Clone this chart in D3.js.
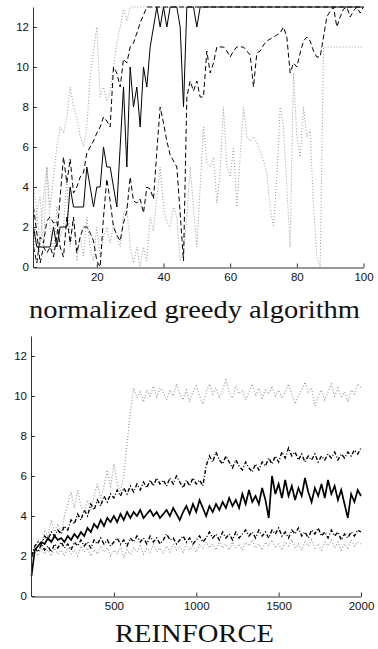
<!DOCTYPE html>
<html>
<head>
<meta charset="utf-8">
<script src="https://cdn.jsdelivr.net/npm/d3@7"></script>
<style>
  body { margin: 0; background: #fff; }
  .tick text { font-family: "Liberation Sans", Arial, sans-serif; font-size: 11.5px; fill: #111; }
  .domain, .tick line { stroke: #333; }
</style>
</head>
<body>
<div id="chart-area"></div>
<script>

// DATA -------------------------------------------------------------

// top panel: x = 1..100
var greedySolid = [2,1,1,1,1,1,2,1,2,2, 2,4,3,3,3,3,5,4,3,4, 4,6,5,5,4,3,6,9,5,10,
    8,9,7,10,9,11,12,13,12,13, 12,13,13,13,12,8,13,13,13,12,
    13,13,13,13,13,13,13,13,13,13, 13,13,13,13,13,13,13,13,13,13,
    13,13,13,13,13,13,13,13,13,13, 13,13,13,13,13,13,13,13,13,13,
    13,13,13,13,13,13,13,13,13,13];
var greedyDashA = [3,1.7,0.2,1,0.7,1,0.5,1.5,3.5,5.5, 4.2,5.4,3.7,4,4.5,4.7,5.7,6,6.3,6.7,
    7,7.5,7.3,7,10,9.7,9,10.4,10.2,11, 11.2,11.7,12.2,12.6,13,13,13,13,13,13,
    13,13,13,13,13,13,13,13,13,13, 13,13,13,13,13,13,13,13,13,13,
    13,13,13,13,13,13,13,13,13,13, 13,13,13,13,13,13,13,13,13,13,
    13,13,13,13,13,13,13,13,13,13, 13,13,13,13,13,13,13,13,13,13];
var greedyDashB = [1,0.2,1.5,1.2,2.3,2.5,2.2,2.3,1,0.5, 2.5,1.2,2.5,0.7,1.5,2,2,1.7,1.3,0.3,
    0,2.5,4.4,3.3,2,1.6,1.3,2.2,2.8,4.5, 3.3,3.2,3.4,2.7,4,3.9,3.4,5.8,8,7.2,
    6.3,5.6,5.3,5,2.7,0.3,8.5,9.3,8.8,9.3, 8.5,8.5,10.8,9.7,10.2,11,11,11,10.8,10.5,
    10.8,11,11,11,10.8,10.6,9,10.7,10.8,11.1, 11.3,11.4,11.5,11.6,11.7,12,11.5,9.7,10.2,10,
    10.7,11.3,11.5,11.3,10.8,10.5,10.5,11.5,12.5,12.8, 13,12,12.5,12.9,13,12.5,12.8,13,12.7,13];
var greedyDotA = [4,2.8,1,3.5,5,3,4.5,6,7,6.7, 7.5,9,8,7.5,6.5,6,7,9.5,10.8,12,
    8.5,9,8.3,8.8,10,11.2,12,12.9,12.3,13, 13,13,13,13,13,13,13,13,13,13,
    13,13,13,13,13,13,13,13,13,13, 13,13,13,13,13,13,13,13,13,13,
    13,13,13,13,13,13,13,13,13,13, 13,13,13,13,13,13,13,13,13,13,
    13,13,13,13,13,13,13,13,13,13, 13,13,13,13,13,13,13,13,13,13];
var greedyDotB = [0.5,2.8,3.5,1,5,2,0.5,3,1.5,2, 4.5,1,2.5,0.3,1.5,0.5,2.5,1,0.3,2,
    0.5,1.5,2,1.2,2.2,1.5,1,2.7,3,1, 0.2,1,0,1,0.3,2.5,1.8,3.5,5,3,
    2.2,2,3,2.5,0.3,0.7,2.5,5,3,1, 4,7,5.2,5,5.5,3.2,4.8,8,5,4.5,
    6,3,5.5,8,6.5,6.3,6.5,6.2,5.8,5.3, 4.7,3,2,4.5,8,7,4,1,9.7,6.5,
    5.5,8,6.5,6.8,3,0.5,0,11,11,11, 11,11,11,11,11,11,11,11,11,11];

// bottom panel: one value every 20 iterations, 0..2000
var reinforceIters = d3.range(0, 2001, 20);
var reinforceDotA = [1.8,2.4,2.8,2.5,3.3,3.0,3.8,3.2,3.6,3.1, 4.0,4.6,5.2,4.4,5.3,4.5,4.2,4.8,4.3,5.0,
    5.6,4.9,5.5,6.3,5.4,6.6,5.6,5.2,6.0,7.6, 9.2,10.4,9.9,10.2,9.7,10.3,10.0,10.5,9.9,10.4,
    10.2,9.8,10.3,10.0,10.6,10.1,9.8,10.3,9.7,10.2, 10.5,10.0,9.6,10.2,10.6,10.1,10.4,9.9,10.3,10.8,
    10.2,9.9,10.5,10.1,10.3,9.8,10.2,10.6,10.0,10.4, 9.9,10.3,10.1,10.5,10.0,10.3,9.9,10.2,10.6,10.1,
    9.6,10.0,10.3,10.7,10.2,10.4,9.5,10.0,10.3,9.8, 10.2,10.6,10.0,10.4,9.9,10.2,9.7,10.3,10.1,10.6, 10.4];
var reinforceDashA = [2.0,2.5,2.7,2.6,3.0,2.8,3.2,3.0,3.3,3.1, 3.5,3.3,3.8,3.6,4.1,3.8,4.3,4.0,4.6,4.3,
    4.8,4.5,5.0,4.7,5.1,4.9,5.3,5.0,5.4,5.1, 5.5,5.2,5.6,5.3,5.7,5.4,5.8,5.5,5.9,5.6,
    5.8,5.5,5.9,5.6,6.0,5.7,5.4,5.8,5.5,5.9, 5.6,5.8,5.5,6.5,7.0,6.7,7.2,6.8,6.6,7.0,
    6.7,6.4,6.8,6.5,6.3,6.7,6.4,6.2,6.6,6.3, 6.7,6.5,6.9,6.6,7.0,6.7,7.2,6.9,7.4,7.0,
    7.2,6.8,7.1,6.7,7.0,6.8,7.1,6.7,7.0,6.8, 7.1,6.9,7.2,6.8,7.1,6.9,7.2,7.0,7.3,7.1, 7.4];
var reinforceSolid = [1.0,2.3,2.5,2.7,2.6,2.9,2.7,3.0,2.8,2.9, 2.7,3.0,2.8,3.1,2.9,3.2,3.0,3.4,3.2,3.6,
    3.4,3.8,3.5,3.9,3.7,4.0,3.7,4.1,3.8,4.2, 3.9,4.2,4.0,4.3,3.9,4.1,4.3,4.0,4.2,3.9,
    4.1,4.3,4.0,4.4,4.1,3.8,4.2,4.5,4.1,4.6, 4.2,4.8,4.4,4.0,4.5,4.2,4.6,4.3,4.7,4.4,
    4.9,4.5,4.8,4.4,5.1,4.6,5.3,4.7,5.0,4.6, 5.4,4.8,3.9,6.0,5.1,5.6,4.9,5.8,5.0,5.5,
    4.8,5.4,5.0,5.9,5.2,4.7,5.4,5.0,5.6,4.9, 5.8,5.1,5.5,4.8,5.3,4.6,3.9,5.1,4.7,5.3, 5.0];
var reinforceDashB = [2.0,2.4,2.2,2.6,2.3,2.5,2.2,2.6,2.4,2.7, 2.4,2.6,2.3,2.7,2.5,2.8,2.5,2.7,2.4,2.8,
    2.6,2.9,2.6,2.8,2.5,2.7,2.9,2.6,2.8,2.5, 2.9,2.7,3.0,2.7,2.9,2.6,3.0,2.7,2.9,2.6,
    2.8,3.1,2.8,2.9,2.6,2.8,3.0,2.7,2.9,2.6, 2.8,3.0,2.7,2.9,3.2,2.9,3.1,2.8,3.2,2.9,
    3.1,2.8,3.2,2.9,3.1,3.3,3.0,3.2,2.9,3.3, 3.0,3.2,2.9,3.3,3.1,3.4,3.0,3.2,2.9,3.3,
    3.1,3.4,3.0,3.2,2.9,3.3,3.1,3.4,3.0,3.2, 2.9,3.3,3.0,3.2,2.8,3.1,2.9,3.2,3.0,3.3, 3.2];
var reinforceDotB = [1.8,2.2,2.0,2.4,2.1,2.3,2.0,2.4,2.1,2.3, 2.0,2.4,2.1,2.3,2.0,2.5,2.2,2.4,2.0,2.3,
    2.1,2.5,2.2,2.4,2.0,2.3,2.1,2.5,1.9,2.3, 2.1,2.4,2.2,2.5,2.1,2.4,2.2,2.6,2.2,2.4,
    2.1,2.5,2.2,2.6,2.3,2.5,2.2,2.6,2.3,2.5, 2.2,2.6,2.4,2.7,2.4,2.6,2.3,2.7,2.4,2.6,
    2.3,2.7,2.4,2.6,2.3,2.7,2.5,2.8,2.4,2.6, 2.3,2.7,2.5,2.8,2.4,2.6,2.3,2.7,2.5,2.8,
    2.4,2.6,2.3,2.7,2.5,2.8,2.4,2.6,2.3,2.7, 2.5,2.8,2.4,2.7,2.3,2.6,2.4,2.8,2.5,2.7, 2.6];

var yTicks = [0, 2, 4, 6, 8, 10, 12];
var greedyTicks = [20, 40, 60, 80, 100];
var reinforceTicks = [500, 1000, 1500, 2000];
var titles = ["normalized greedy algorithm", "REINFORCE"];


// SVG -------------------------------------------------------------

var svg = d3.select("#chart-area").append("svg")
    .attr("width", 378)
    .attr("height", 649);

// line styles, drawn dotted -> dashed -> solid
var styles = {
    dot:    { color: "#9a9a9a", dash: "1,2" },
    dash:   { color: "#000", dash: "5,3" },
    dashdot:{ color: "#000", dash: "4,2,1,2" },
    solid:  { color: "#000", dash: null }
};


// PANEL FUNCTION --------------------------------------------------

function panel(cfg) {
    var x = d3.scaleLinear().domain(cfg.xDomain).range([cfg.left, cfg.right]);
    var y = d3.scaleLinear().domain([0, 13]).range([cfg.bottom, cfg.top]);

    var g = svg.append("g").attr("name", cfg.name);

    // lines
    var line = d3.line()
        .x(d => x(d[0]))
        .y(d => y(d[1]));

    cfg.series.forEach(s => {
        var st = styles[s.style];
        var pts = s.values.map((v, i) => [cfg.xs[i], v]);
        g.append("path")
            .datum(pts)
            .attr("fill", "none")
            .attr("stroke", st.color)
            .attr("stroke-width", s.width || 1)
            .attr("stroke-dasharray", st.dash)
            .attr("d", line);
    });

    // X Axis
    g.append("g")
        .attr("class", "x axis")
        .attr("transform", "translate(0," + (cfg.bottom + 0.5) + ")")
        .call(d3.axisBottom(x)
            .tickValues(cfg.xTicks)
            .tickSizeInner(-4)
            .tickSizeOuter(0)
            .tickPadding(5)
            .tickFormat(d3.format("d")));

    // Y Axis
    g.append("g")
        .attr("class", "y axis")
        .attr("transform", "translate(" + (cfg.left - 0.5) + ",0)")
        .call(d3.axisLeft(y)
            .tickValues(yTicks)
            .tickSizeInner(-4)
            .tickSizeOuter(0)
            .tickPadding(4));

    // Title
    svg.append("text")
        .attr("x", 194.5)
        .attr("y", cfg.titleY)
        .attr("text-anchor", "middle")
        .attr("font-family", "'Liberation Serif', 'DejaVu Serif', serif")
        .attr("font-size", cfg.titleSize + "px")
        .attr("textLength", cfg.titleWidth)
        .attr("lengthAdjust", "spacingAndGlyphs")
        .attr("fill", "#111")
        .text(cfg.title);
}


// DRAW -------------------------------------------------------------

panel({
    name: "greedy",
    xDomain: [1, 100], xs: d3.range(1, 101), xTicks: greedyTicks,
    left: 33.5, right: 363.5, top: 7, bottom: 267,
    title: titles[0], titleY: 318, titleSize: 26, titleWidth: 331,
    series: [
        { values: greedyDotB, style: "dot" },
        { values: greedyDotA, style: "dot" },
        { values: greedyDashB, style: "dash" },
        { values: greedyDashA, style: "dash" },
        { values: greedySolid, style: "solid" }
    ]
});

panel({
    name: "reinforce",
    xDomain: [0, 2000], xs: reinforceIters, xTicks: reinforceTicks,
    left: 31.5, right: 361, top: 336, bottom: 596,
    title: titles[1], titleY: 642, titleSize: 26, titleWidth: 159,
    series: [
        { values: reinforceDotB, style: "dot", width: 1.2 },
        { values: reinforceDotA, style: "dot", width: 1.2 },
        { values: reinforceDashB, style: "dashdot", width: 1.4 },
        { values: reinforceDashA, style: "dashdot", width: 1.4 },
        { values: reinforceSolid, style: "solid", width: 1.7 }
    ]
});

</script>
</body>
</html>
